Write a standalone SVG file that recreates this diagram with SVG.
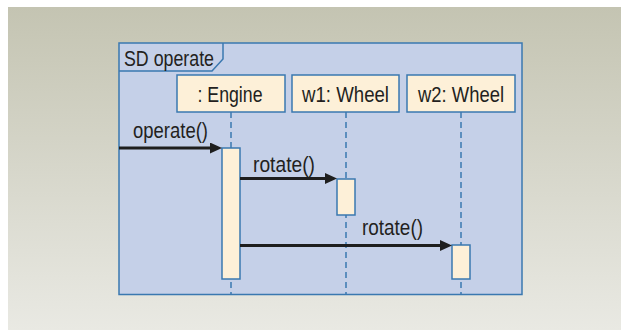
<svg xmlns="http://www.w3.org/2000/svg" width="621" height="330" viewBox="0 0 621 330">
  <defs>
    <linearGradient id="bg" x1="0" y1="0" x2="0" y2="1">
      <stop offset="0" stop-color="#c4c4b2"/>
      <stop offset="1" stop-color="#e9e9e3"/>
    </linearGradient>
    <marker id="arrow" markerUnits="userSpaceOnUse" markerWidth="13" markerHeight="12" refX="3" refY="5.5" orient="auto">
      <path d="M0,0 L12,5.5 L0,11 Z" fill="#1e1e1e"/>
    </marker>
    <style>
      .lbl { font-family: "Liberation Sans", Arial, sans-serif; font-size: 22.5px; fill: #231f20; }
      .head { fill: #fdf0d8; stroke: #3a78b0; stroke-width: 1.5; }
      .life { stroke: #3a78b0; stroke-width: 1.5; stroke-dasharray: 6 4; fill: none; }
      .act { fill: #fdf0d8; stroke: #3a78b0; stroke-width: 1.5; }
      .msg { stroke: #1e1e1e; stroke-width: 2.8; fill: none; marker-end: url(#arrow); }
    </style>
  </defs>

  <!-- page background -->
  <rect x="0" y="0" width="621" height="330" fill="#ffffff"/>
  <rect x="8" y="7" width="613" height="323" fill="url(#bg)"/>

  <!-- sequence diagram frame -->
  <g id="frame">
    <rect x="119" y="43" width="403" height="251.5" fill="#c5d0e8" stroke="#3a78b0" stroke-width="1.5"/>
    <path d="M119,71 L212,71 L223,59 L223,43" fill="none" stroke="#3a78b0" stroke-width="1.5"/>
    <text class="lbl" x="124" y="66" textLength="90" lengthAdjust="spacingAndGlyphs">SD operate</text>
  </g>

  <!-- lifelines -->
  <g id="lifelines">
    <line class="life" x1="231" y1="112" x2="231" y2="294"/>
    <line class="life" x1="346" y1="112" x2="346" y2="294"/>
    <line class="life" x1="461" y1="112" x2="461" y2="294"/>
  </g>

  <g id="engine">
    <rect class="head" x="177" y="75" width="108" height="37"/>
    <text class="lbl" x="230" y="101.5" text-anchor="middle" textLength="65" lengthAdjust="spacingAndGlyphs">: Engine</text>
    <rect class="act" x="222" y="148" width="18" height="131"/>
  </g>

  <g id="w1">
    <rect class="head" x="292" y="75" width="107" height="37"/>
    <text class="lbl" x="345.5" y="102" text-anchor="middle" textLength="87" lengthAdjust="spacingAndGlyphs">w1: Wheel</text>
    <rect class="act" x="337" y="179" width="18" height="36"/>
  </g>

  <g id="w2">
    <rect class="head" x="407" y="75" width="108" height="37"/>
    <text class="lbl" x="461" y="102" text-anchor="middle" textLength="86" lengthAdjust="spacingAndGlyphs">w2: Wheel</text>
    <rect class="act" x="452" y="245" width="18" height="34"/>
  </g>

  <!-- messages -->
  <g id="connectors">
    <line class="msg" x1="119" y1="148" x2="213" y2="148"/>
    <text class="lbl" x="133" y="138" textLength="75" lengthAdjust="spacingAndGlyphs">operate()</text>

    <line class="msg" x1="240" y1="178.5" x2="328" y2="178.5"/>
    <text class="lbl" x="253" y="171.5" textLength="62" lengthAdjust="spacingAndGlyphs">rotate()</text>

    <line class="msg" x1="240" y1="245.5" x2="443" y2="245.5"/>
    <text class="lbl" x="362" y="235" textLength="61" lengthAdjust="spacingAndGlyphs">rotate()</text>
  </g>
</svg>
